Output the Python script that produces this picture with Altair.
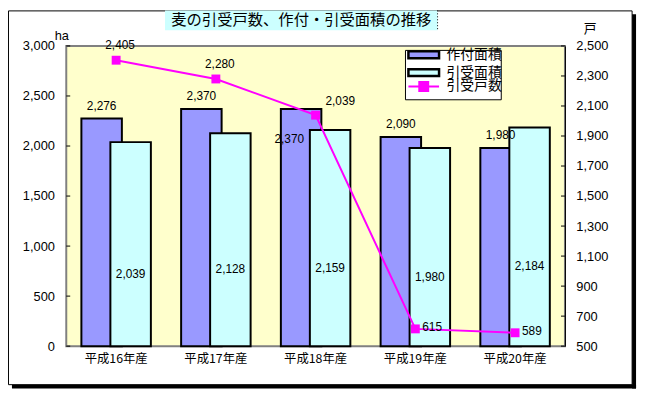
import altair as alt
import pandas as pd

# ---------------- data ----------------
categories = ["平成16年産", "平成17年産", "平成18年産", "平成19年産", "平成20年産"]
planted_area = [2276, 2370, 2370, 2090, 1980]      # 作付面積 (ha)
insured_area = [2039, 2128, 2159, 1980, 2184]      # 引受面積 (ha)
households = [2405, 2280, 2039, 615, 589]          # 引受戸数 (戸)
series_names = ["作付面積", "引受面積", "引受戸数"]
series_colors = ["#9999FF", "#CCFFFF", "#FF00FF"]
left_ticks = [0, 500, 1000, 1500, 2000, 2500, 3000]
right_ticks = [500, 700, 900, 1100, 1300, 1500, 1700, 1900, 2100, 2300, 2500]
title_text = "麦の引受戸数、作付・引受面積の推移"
left_unit = "ha"
right_unit = "戸"

FONT = "Liberation Sans, Noto Sans CJK JP, sans-serif"
JFONT = "Noto Sans CJK JP"

bars_df = pd.DataFrame(
    [{"category": c, "series": series_names[0], "value": v} for c, v in zip(categories, planted_area)]
    + [{"category": c, "series": series_names[1], "value": v} for c, v in zip(categories, insured_area)]
)
line_df = pd.DataFrame({"category": categories, "series": series_names[2], "value": households})
cat_df = pd.DataFrame({"category": categories})
lt_df = pd.DataFrame({"v": left_ticks})
rt_df = pd.DataFrame({"v": right_ticks})
one = pd.DataFrame({"k": [0]})

# ---------------- scales ----------------
x_scale = alt.Scale(domain=categories, paddingInner=0, paddingOuter=0)
xo_scale = alt.Scale(domain=series_names[:2], paddingInner=0, paddingOuter=0.72)
yl_scale = alt.Scale(domain=[0, 3000], nice=False)
yr_scale = alt.Scale(domain=[500, 2500], nice=False)
# legend symbols: drawn at ~13.5px "size", path spans +-2.3 units -> ~31px wide
rect_path = "M-2.3,-0.52H2.3V0.52H-2.3Z"
linesq_path = "M-2.3,0H2.3M-0.67,-0.67H0.67V0.67H-0.67Z"

x_axis = alt.Axis(orient="bottom", title=None, labels=False, ticks=False, domainColor="black",
                  domainWidth=1.5)
X = alt.X("category:N", sort=categories, scale=x_scale, axis=x_axis)
Xn = alt.X("category:N", sort=categories, scale=x_scale, axis=None)
XO = alt.XOffset("series:N", sort=series_names[:2], scale=xo_scale)

left_axis = alt.Axis(orient="left", values=left_ticks, format=",.0f", tickSize=0, labelPadding=12,
                     domain=False, grid=False, title=left_unit, titleAngle=0, titleX=-5, titleY=-11,
                     titleAlign="center", titleBaseline="middle", labelFontSize=13, titleFontSize=13,
                     titleFontWeight="normal", labelColor="black", titleColor="black",
                     labelFont=FONT, titleFont=FONT)
right_axis = alt.Axis(orient="right", values=right_ticks, format=",.0f", tickSize=0, labelPadding=11,
                      domain=True, domainColor="black", grid=False, title=right_unit, titleAngle=0,
                      titleX=25, titleY=-18, titleAlign="center", titleBaseline="middle",
                      labelFontSize=13, titleFontSize=13, titleFontWeight="normal",
                      labelColor="black", titleColor="black", labelFont=FONT, titleFont=JFONT)

bar_legend = alt.Legend(title=None, orient="none", legendX=354, legendY=1, padding=0,
                        labelFontSize=14, labelFont=JFONT, labelColor="black",
                        symbolType=rect_path, symbolSize=182, symbolStrokeColor="black",
                        symbolStrokeWidth=2.5, labelOffset=15, rowPadding=0)
line_legend = alt.Legend(title=None, orient="none", legendX=354, legendY=33, padding=0,
                         labelFontSize=14, labelFont=JFONT, labelColor="black",
                         symbolType=linesq_path, symbolSize=182, symbolFillColor="#FF00FF",
                         symbolStrokeColor="#FF00FF", symbolStrokeWidth=2, labelOffset=15)

# ---------------- decorations ----------------
def hrule(x1, x2, y, w=1, color="black", dash=None):
    kw = dict(color=color, strokeWidth=w)
    if dash:
        kw["strokeDash"] = dash
    return alt.Chart(one).mark_rule(**kw).encode(x=alt.value(x1), x2=alt.value(x2), y=alt.value(y))

def vrule(x, y1, y2, w=1, color="black", dash=None):
    kw = dict(color=color, strokeWidth=w)
    if dash:
        kw["strokeDash"] = dash
    return alt.Chart(one).mark_rule(**kw).encode(x=alt.value(x), y=alt.value(y1), y2=alt.value(y2))

frame_parts = [
    vrule(575, -32, 347, w=4),          # shadow right
    hrule(-55, 577, 345, w=4),          # shadow bottom
    hrule(-58.5, 573, -35.5),           # top
    hrule(-58.5, 573, 343),             # bottom
    vrule(-58.5, -35.5, 343),           # left
    vrule(573, -35.5, 343),             # right
]
title_box = alt.Chart(one).mark_rect(color="#CCFFFF").encode(
    x=alt.value(100), x2=alt.value(376), y=alt.value(-36), y2=alt.value(-16))
title_edge = vrule(376, -36, -16, dash=[1, 2])
title_mark = alt.Chart(one).mark_text(font=JFONT, fontSize=15.5, color="black", align="center",
                                      baseline="middle", text=title_text).encode(
    x=alt.value(238), y=alt.value(-26))
legend_box = alt.Chart(one).mark_rect(fill="white", stroke="black", strokeWidth=1).encode(
    x=alt.value(343.5), x2=alt.value(440.5), y=alt.value(4.5), y2=alt.value(54.5))

# category labels under the x axis (placed through the x scale)
x_labels = alt.Chart(cat_df).mark_text(font=JFONT, fontSize=12.5, color="black", align="center",
                                       baseline="middle").encode(
    x=Xn, y=alt.value(317), text="category:N")

# ---------------- left (bars) ----------------
bars = alt.Chart(bars_df).mark_bar(width=41, stroke="black", strokeWidth=2).encode(
    x=Xn, xOffset=XO,
    y=alt.Y("value:Q", scale=yl_scale, axis=left_axis),
    fill=alt.Fill("series:N", scale=alt.Scale(domain=series_names[:2], range=series_colors[:2]),
                  legend=bar_legend),
)
lticks = alt.Chart(lt_df).mark_rule(color="black", strokeWidth=1).encode(
    x=alt.value(0), x2=alt.value(4), y=alt.Y("v:Q", scale=yl_scale, axis=None))

dark_df_filter = (alt.datum.series == series_names[0])
dark_lbl = alt.Chart(bars_df).transform_filter(dark_df_filter).transform_filter(
    alt.datum.category != categories[2]).mark_text(fontSize=12, font=FONT, color="black",
                                                   baseline="middle", dy=-13).encode(
    x=Xn, xOffset=XO, y=alt.Y("value:Q", scale=yl_scale, axis=None),
    text=alt.Text("value:Q", format=","))
dark_lbl3 = alt.Chart(bars_df).transform_filter(dark_df_filter).transform_filter(
    alt.datum.category == categories[2]).mark_text(fontSize=12, font=FONT, color="black",
                                                   baseline="middle", dy=30, dx=-12).encode(
    x=Xn, xOffset=XO, y=alt.Y("value:Q", scale=yl_scale, axis=None),
    text=alt.Text("value:Q", format=","))
light_lbl = alt.Chart(bars_df).transform_filter(alt.datum.series == series_names[1]).transform_calculate(
    half="datum.value / 2").mark_text(fontSize=12, font=FONT, color="black",
                                      baseline="middle", dy=30).encode(
    x=Xn, xOffset=XO, y=alt.Y("half:Q", scale=yl_scale, axis=None),
    text=alt.Text("value:Q", format=","))

# ---------------- right (line) ----------------
line = alt.Chart(line_df).mark_line(strokeWidth=2).encode(
    x=X, y=alt.Y("value:Q", scale=yr_scale, axis=right_axis),
    stroke=alt.Stroke("series:N", scale=alt.Scale(domain=series_names[2:], range=series_colors[2:]),
                      legend=line_legend))
markers = alt.Chart(line_df).mark_square(size=81, color="#FF00FF", opacity=1).encode(
    x=Xn, y=alt.Y("value:Q", scale=yr_scale, axis=None))
rticks = alt.Chart(rt_df).mark_rule(color="black", strokeWidth=1).encode(
    x=alt.value(501), x2=alt.value(505), y=alt.Y("v:Q", scale=yr_scale, axis=None))
ll_a = alt.Chart(line_df).transform_filter(
    alt.FieldOneOfPredicate(field="category", oneOf=categories[:2])).mark_text(
    fontSize=12, font=FONT, color="black", baseline="middle", dx=4, dy=-15).encode(
    x=Xn, y=alt.Y("value:Q", scale=yr_scale, axis=None), text=alt.Text("value:Q", format=","))
ll_b = alt.Chart(line_df).transform_filter(alt.datum.category == categories[2]).mark_text(
    fontSize=12, font=FONT, color="black", baseline="middle", dx=25, dy=-14).encode(
    x=Xn, y=alt.Y("value:Q", scale=yr_scale, axis=None), text=alt.Text("value:Q", format=","))
ll_c = alt.Chart(line_df).transform_filter(
    alt.FieldOneOfPredicate(field="category", oneOf=categories[3:])).mark_text(
    fontSize=12, font=FONT, color="black", baseline="middle", align="left", dx=7, dy=-2).encode(
    x=Xn, y=alt.Y("value:Q", scale=yr_scale, axis=None), text=alt.Text("value:Q", format=","))

chart = alt.layer(
    bars, line, *frame_parts, title_box, title_edge, title_mark, x_labels,
    lticks, dark_lbl, dark_lbl3, light_lbl,
    markers, rticks, ll_a, ll_b, ll_c, legend_box
).resolve_scale(y="independent").properties(
    width=505, height=304,
    autosize=alt.AutoSizeParams(type="none"),
    padding={"left": 59, "top": 36, "right": 76, "bottom": 44},
    background="white",
).configure_view(fill="#FFFFCC", stroke="#808080", strokeWidth=2)

chart.save("out.html", embed_options={"renderer": "svg", "actions": False})
